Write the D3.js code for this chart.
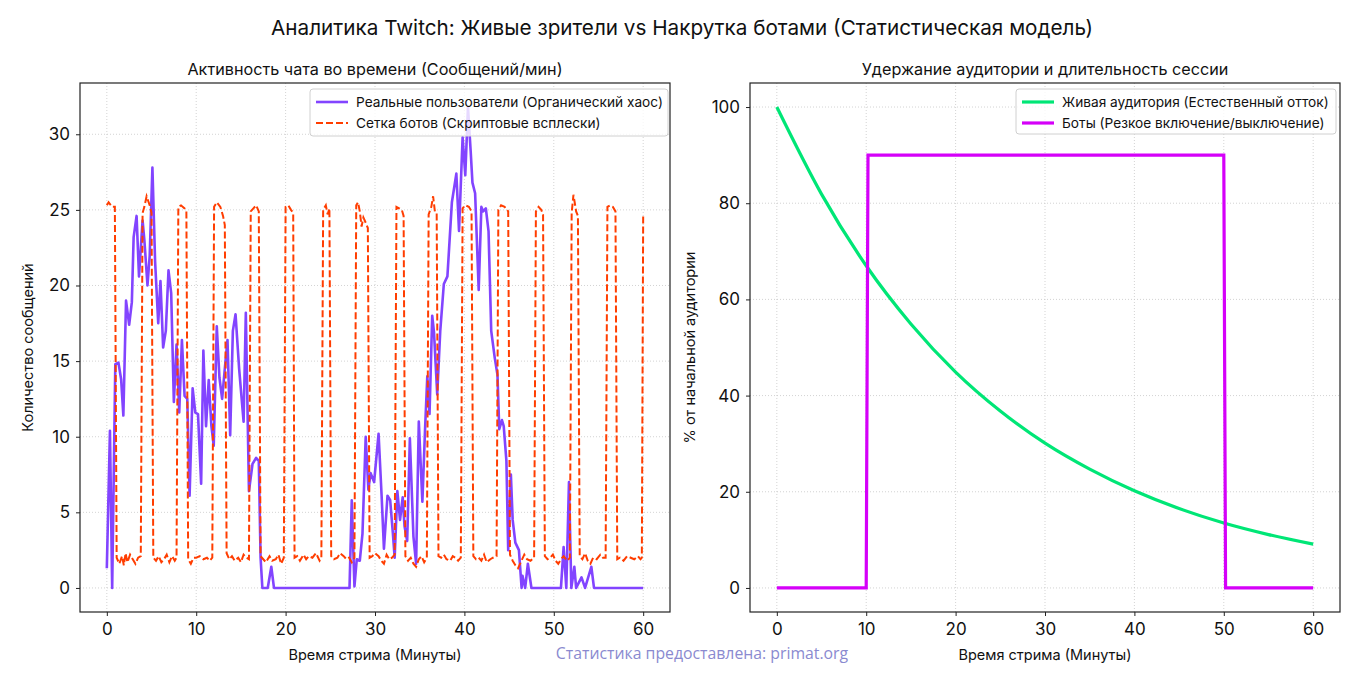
<!DOCTYPE html>
<html>
<head>
<meta charset="utf-8">
<script src="https://cdn.jsdelivr.net/npm/d3@7"></script>
<style>
  body { margin: 0; background: #fff; }
  text { font-family: "Inter", "Roboto", sans-serif; fill: #111; }
</style>
</head>
<body>
<div id="chart"></div>
<script>
// ---- data ----
const realTime = [0,0.35,0.6,0.95,1.3,1.6,1.85,2.15,2.5,2.8,3.0,3.33,3.6,4.0,4.2,4.55,4.8,5.1,5.4,5.75,6.0,6.3,6.6,6.9,7.2,7.5,7.8,8.1,8.4,8.7,9.0,9.26,9.6,9.9,10.2,10.55,10.8,11.1,11.4,11.7,11.96,12.3,12.6,12.9,13.2,13.5,13.8,14.1,14.4,14.8,15.3,15.55,15.9,16.3,16.7,17.0,17.2,17.4,18.0,18.4,18.7,27.15,27.4,27.7,27.96,28.3,28.6,28.96,29.26,29.5,29.9,30.4,30.74,31.0,31.4,31.7,32.0,32.2,32.5,32.8,33.1,33.3,33.6,33.9,34.3,34.6,34.9,35.3,35.6,35.85,36.1,36.4,36.6,36.96,37.3,37.7,38.1,38.6,39.1,39.4,39.8,40.1,40.4,40.7,40.9,41.2,41.6,41.9,42.1,42.4,42.7,43.0,43.4,43.7,43.9,44.2,44.4,44.7,44.9,45.2,45.4,45.7,46.1,46.4,46.5,46.8,47.1,47.5,50.8,51.1,51.4,51.7,51.96,52.3,52.5,53.1,53.5,54.2,54.5,60];
const realCount = [1.3,10.4,0,14.8,14.9,13.8,11.4,19.0,17.4,18.9,23.2,24.6,20.6,24.3,23.0,20.0,22.0,27.8,21.6,17.5,20.3,15.9,17.0,21.0,19.5,12.3,16.1,11.6,16.4,12.7,12.5,6.1,13.2,11.6,11.5,6.9,15.7,10.7,13.75,10.7,9.4,17.3,13.9,12.5,14.5,16.4,10.1,17.0,18.1,14.5,11.0,18.2,6.4,8.2,8.6,8.4,2.0,0,0,1.4,0,0,5.8,0.1,1.9,1.8,3.6,10.0,6.5,7.6,7.0,10.2,6.1,2.6,6.1,5.8,3.6,2.0,6.4,4.5,6.0,4.1,3.1,9.9,3.4,1.6,11.0,5.7,10.5,14.0,11.5,18.0,16.9,12.8,17.0,20.1,20.6,25.5,27.4,23.6,29.8,27.3,31.8,28.9,26.8,26.1,19.7,25.2,24.9,25.1,23.6,17.0,15.2,14.1,10.5,11.1,10.7,8.4,2.5,7.5,4.5,3.0,2.5,0,0.8,0,1.6,0,0,2.7,0,7.0,0,1.4,0,0.7,0,1.4,0,0];

const botTime = [0,0.2,0.6,0.9,1.1,1.4,1.7,1.9,2.1,2.3,2.6,2.9,3.2,3.5,3.8,4.0,4.2,4.45,4.8,5.0,5.2,5.5,5.8,6.1,6.4,6.7,7.0,7.3,7.6,7.8,8.0,8.3,8.7,8.9,9.1,9.4,9.7,10.0,10.4,10.8,11.2,11.5,11.8,12.0,12.3,12.7,13.0,13.2,13.4,13.7,14.0,14.3,14.7,15.0,15.3,15.6,15.9,16.1,16.4,16.7,17.0,17.2,17.5,17.8,18.2,18.5,18.9,19.2,19.5,19.8,20.0,20.3,20.6,20.85,21.0,21.3,21.6,22.0,22.3,22.6,23.0,23.4,23.8,24.0,24.2,24.5,24.7,24.9,25.1,25.4,25.8,26.1,26.5,26.8,27.1,27.4,27.7,27.9,28.1,28.3,28.5,28.7,29.0,29.2,29.4,29.7,30.0,30.4,30.7,31.0,31.3,31.6,31.9,32.2,32.4,32.7,33.0,33.2,33.4,33.7,34.0,34.3,34.6,34.9,35.2,35.5,35.8,36.0,36.3,36.5,36.7,36.9,37.1,37.4,37.7,38.0,38.4,38.7,39.0,39.3,39.6,39.8,40.1,40.5,40.8,41.0,41.3,41.6,41.9,42.2,42.5,42.9,43.2,43.6,43.8,44.1,44.5,44.9,45.1,45.4,45.7,46.0,46.3,46.7,47.0,47.4,47.8,48.0,48.3,48.6,48.8,49.0,49.3,49.6,49.9,50.2,50.5,50.8,51.1,51.5,51.8,52.0,52.2,52.5,52.7,52.9,53.2,53.5,53.8,54.1,54.4,54.8,55.2,55.5,55.8,56.0,56.3,56.6,56.9,57.1,57.4,57.8,58.2,58.6,59.0,59.4,59.7,59.85,60.0];
const botCount = [25.3,25.5,25.2,25.2,2.0,1.6,2.1,1.5,2.3,1.7,2.2,1.9,1.6,2.0,2.1,24.8,25.2,25.9,25.3,24.8,2.0,1.8,2.1,1.7,1.9,2.2,1.7,2.1,1.8,2.0,25.2,25.3,25.1,24.9,1.9,1.6,2.0,2.0,2.1,1.9,2.0,1.8,2.0,25.2,25.5,25.2,24.6,24.0,2.3,1.9,2.1,1.8,2.0,1.7,2.2,2.0,1.9,24.9,25.1,25.3,24.9,2.1,1.9,1.7,2.1,1.8,1.9,2.2,1.6,2.0,25.2,25.3,25.0,24.8,2.0,2.1,1.8,2.2,1.9,2.1,2.0,2.3,1.8,2.0,25.0,25.3,24.7,25.1,2.1,1.9,2.0,2.3,2.1,1.9,2.0,1.7,2.0,25.3,25.5,24.9,23.9,24.5,24.1,23.8,2.0,2.1,2.3,2.1,1.8,1.6,2.2,1.9,2.0,2.2,25.2,25.1,25.0,24.6,2.1,1.8,2.0,1.6,1.4,1.9,2.1,1.7,2.0,24.7,25.2,25.9,24.9,24.8,2.1,2.0,2.2,1.9,1.8,2.1,2.0,1.8,2.0,25.1,25.3,25.2,24.9,2.1,1.9,2.0,1.8,2.2,1.7,1.9,2.0,2.1,25.0,25.3,25.2,24.9,2.2,1.8,1.5,1.3,1.7,2.2,1.9,1.8,2.0,24.9,25.2,25.0,24.7,2.1,1.9,2.0,2.2,1.8,1.6,1.9,2.1,1.8,2.0,24.8,26.0,24.9,24.6,2.1,1.9,2.3,1.8,1.6,2.0,1.9,2.2,2.0,2.0,25.2,25.3,25.2,24.9,1.9,2.0,1.8,2.1,2.0,1.9,2.1,1.9,2.0,24.7];

const liveTime = [0,5,10,15,20,25,30,35,40,45,50,55,60];
const livePct = [100,81.9,67.0,54.9,44.9,36.8,30.1,24.7,20.2,16.5,13.5,11.1,9.1];

const botsTime = [0,10,10.2,50,50.2,60];
const botsPct = [0,0,90,90,0,0];

const ticksLeftY = [0,5,10,15,20,25,30];
const ticksRightY = [0,20,40,60,80,100];
const ticksX = [0,10,20,30,40,50,60];

// ---- layout ----
const width = 1363, height = 688;
const top_ = 83, bottom_ = 612;
const leftPanel = { x0: 80, x1: 670, labelOff: 47 };
const rightPanel = { x0: 750, x1: 1340, labelOff: 55 };

const colReal = "#8244ff", colBot = "#ff3d00", colLive = "#00e676", colBots = "#d500f9";

const svg = d3.select("#chart").append("svg")
  .attr("width", width).attr("height", height)
  .attr("viewBox", [0, 0, width, height]);

svg.append("rect").attr("width", width).attr("height", height).attr("fill", "#fff");

svg.append("text")
  .attr("x", 682).attr("y", 35)
  .attr("text-anchor", "middle")
  .style("font-size", "20.7px")
  .text("Аналитика Twitch: Живые зрители vs Накрутка ботами (Статистическая модель)");

// padded domain like matplotlib (5%)
function pad(lo, hi) {
  const m = (hi - lo) * 0.05;
  return [lo - m, hi + m];
}

function panel(p, yDomain, yTicks, title, yLabel) {
  const x = d3.scaleLinear().domain(pad(0, 60)).range([p.x0, p.x1]);
  const y = d3.scaleLinear().domain(yDomain).range([bottom_, top_]);
  const g = svg.append("g");

  // grid
  g.append("g").selectAll("line").data(ticksX).join("line")
    .attr("x1", d => x(d)).attr("x2", d => x(d))
    .attr("y1", top_).attr("y2", bottom_)
    .attr("stroke", "#c8c8c8").attr("stroke-width", 0.8)
    .attr("stroke-dasharray", "1,2");
  g.append("g").selectAll("line").data(yTicks).join("line")
    .attr("x1", p.x0).attr("x2", p.x1)
    .attr("y1", d => y(d)).attr("y2", d => y(d))
    .attr("stroke", "#c8c8c8").attr("stroke-width", 0.8)
    .attr("stroke-dasharray", "1,2");

  // axes
  const ax = g.append("g")
    .attr("transform", `translate(0,${bottom_})`)
    .call(d3.axisBottom(x).tickValues(ticksX).tickSize(4).tickPadding(7).tickFormat(d3.format("d")));
  const ay = g.append("g")
    .attr("transform", `translate(${p.x0},0)`)
    .call(d3.axisLeft(y).tickValues(yTicks).tickSize(4).tickPadding(6).tickFormat(d3.format("d")));
  [ax, ay].forEach(a => {
    a.select(".domain").remove();
    a.selectAll("line").attr("stroke", "#222");
    a.selectAll("text").style("font-size", "17px").style("font-family", "Inter, Roboto, sans-serif").attr("fill", "#111");
  });

  g.append("text")
    .attr("x", (p.x0 + p.x1) / 2).attr("y", 75)
    .attr("text-anchor", "middle")
    .style("font-size", "16.2px")
    .text(title);

  g.append("text")
    .attr("x", (p.x0 + p.x1) / 2).attr("y", 660)
    .attr("text-anchor", "middle")
    .style("font-size", "14.5px")
    .text("Время стрима (Минуты)");

  g.append("text")
    .attr("transform", `translate(${p.x0 - p.labelOff},${(top_ + bottom_) / 2}) rotate(-90)`)
    .attr("text-anchor", "middle")
    .style("font-size", "14.5px")
    .text(yLabel);

  return { x, y, g };
}

const L = panel(leftPanel, pad(0, d3.max(realCount)), ticksLeftY,
  "Активность чата во времени (Сообщений/мин)", "Количество сообщений");
const R = panel(rightPanel, pad(0, 100), ticksRightY,
  "Удержание аудитории и длительность сессии", "% от начальной аудитории");

// clip path for the left panel
svg.append("clipPath").attr("id", "clipL").append("rect")
  .attr("x", leftPanel.x0).attr("y", top_)
  .attr("width", leftPanel.x1 - leftPanel.x0).attr("height", bottom_ - top_);

// left lines
const lineL = d3.line().x(d => L.x(d[0])).y(d => L.y(d[1]));
L.g.append("path")
  .datum(realTime.map((t, i) => [t, realCount[i]]))
  .attr("clip-path", "url(#clipL)")
  .attr("fill", "none").attr("stroke", colReal).attr("stroke-width", 2.6)
  .attr("stroke-linejoin", "round")
  .attr("d", lineL);
L.g.append("path")
  .datum(botTime.map((t, i) => [t, botCount[i]]))
  .attr("clip-path", "url(#clipL)")
  .attr("fill", "none").attr("stroke", colBot).attr("stroke-width", 2)
  .attr("stroke-dasharray", "7,3")
  .attr("d", lineL);

// right lines
R.g.append("path")
  .datum(liveTime.map((t, i) => [t, livePct[i]]))
  .attr("fill", "none").attr("stroke", colLive).attr("stroke-width", 3.2)
  .attr("d", d3.line().curve(d3.curveMonotoneX).x(d => R.x(d[0])).y(d => R.y(d[1])));
R.g.append("path")
  .datum(botsTime.map((t, i) => [t, botsPct[i]]))
  .attr("fill", "none").attr("stroke", colBots).attr("stroke-width", 3.2)
  .attr("d", d3.line().x(d => R.x(d[0])).y(d => R.y(d[1])));

// frames
[leftPanel, rightPanel].forEach(p => {
  svg.append("rect")
    .attr("x", p.x0).attr("y", top_)
    .attr("width", p.x1 - p.x0).attr("height", bottom_ - top_)
    .attr("fill", "none").attr("stroke", "#222").attr("stroke-width", 1.2);
});

// legends
function legend(x0, y0, w, h, items) {
  const lg = svg.append("g").attr("transform", `translate(${x0},${y0})`);
  lg.append("rect").attr("width", w).attr("height", h).attr("rx", 3)
    .attr("fill", "#fff").attr("fill-opacity", 0.8)
    .attr("stroke", "#d0d0d0");
  items.forEach((it, i) => {
    const yy = 13 + i * 21;
    lg.append("line").attr("x1", 6).attr("x2", 38).attr("y1", yy).attr("y2", yy)
      .attr("stroke", it.color).attr("stroke-width", it.w)
      .attr("stroke-dasharray", it.dash || null);
    lg.append("text").attr("x", 46).attr("y", yy).attr("dy", "0.35em")
      .style("font-size", "13.7px").text(it.label);
  });
}
legend(310, 89, 358, 47, [
  { color: colReal, w: 2.6, label: "Реальные пользователи (Органический хаос)" },
  { color: colBot, w: 2, dash: "7,3", label: "Сетка ботов (Скриптовые всплески)" }
]);
legend(1016, 89, 320, 45, [
  { color: colLive, w: 3.2, label: "Живая аудитория (Естественный отток)" },
  { color: colBots, w: 3.2, label: "Боты (Резкое включение/выключение)" }
]);

// watermark
svg.append("text")
  .attr("x", 702).attr("y", 659)
  .attr("text-anchor", "middle")
  .style("font-family", "'Open Sans', sans-serif")
  .style("font-size", "15.8px")
  .style("fill", "#8a8ad0")
  .text("Статистика предоставлена: primat.org");
</script>
</body>
</html>
